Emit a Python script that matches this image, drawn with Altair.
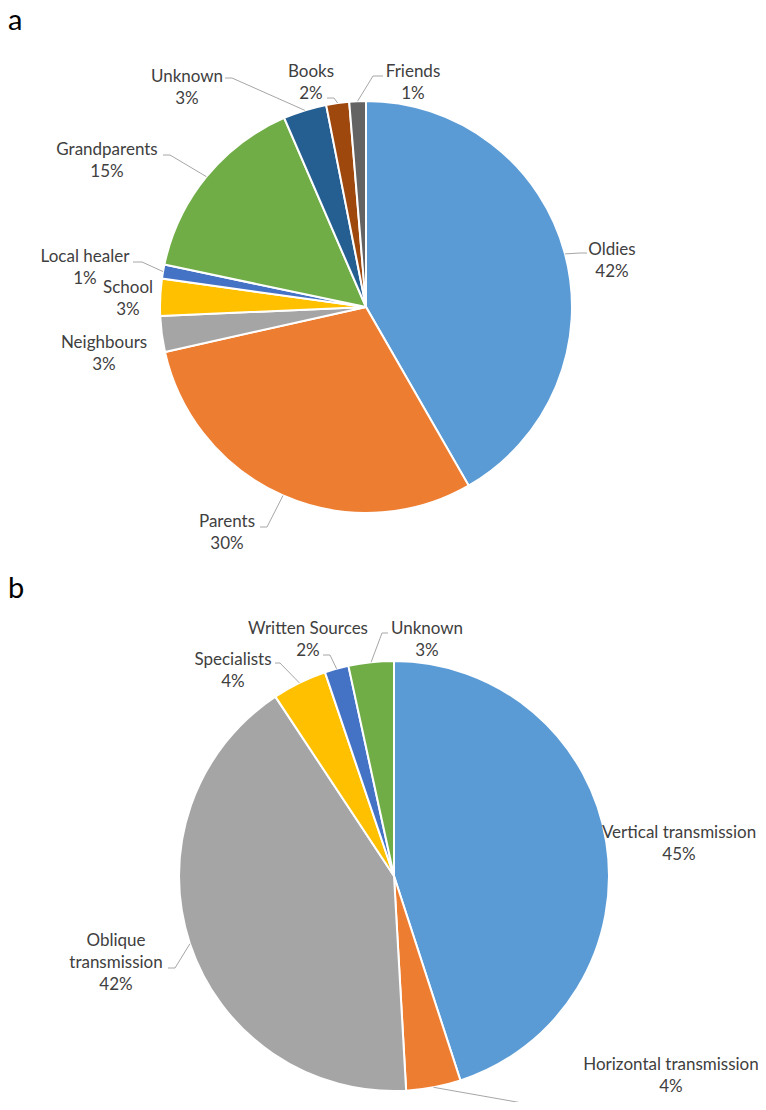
import altair as alt
import numpy as np
import pandas as pd

# ---------------- data ----------------
a_categories = ["Oldies", "Parents", "Neighbours", "School", "Local healer",
                "Grandparents", "Unknown", "Books", "Friends"]
a_values = [41.7, 29.8, 2.8, 2.9, 1.1, 15.2, 3.4, 1.8, 1.3]

b_categories = ["Vertical transmission", "Horizontal transmission",
                "Oblique transmission", "Specialists", "Written Sources", "Unknown"]
b_values = [45.0, 4.1, 41.6, 4.1, 1.8, 3.4]

# ---------------- styles / layout ----------------
a_palette = ["#5B9BD5", "#ED7D31", "#A5A5A5", "#FFC000", "#4472C4",
             "#70AD47", "#255E91", "#9E480E", "#636363"]
b_palette = ["#5B9BD5", "#ED7D31", "#A5A5A5", "#FFC000", "#4472C4", "#70AD47"]

A_CX, A_CY, A_R = 366, 307, 206
B_CX, B_CY, B_R = 394, 876, 215

# label anchor (centre x, first baseline) and leader elbow/end, page pixels
a_layout = {
    "Oldies":       ((612, 255), [(580, 253), (587, 253)]),
    "Parents":      ((227, 527), [(267, 527), (260, 527)]),
    "Neighbours":   ((104, 348), None),
    "School":       ((128, 293), None),
    "Local healer": ((85, 262),  [(142, 262), (133, 262)]),
    "Grandparents": ((107, 155), [(170, 155), (163, 155)]),
    "Unknown":      ((187, 82),  [(232, 78), (225, 78)]),
    "Books":        ((311, 77),  [(334, 98), (327, 98)]),
    "Friends":      ((413, 77),  [(373, 76), (383, 76)]),
}
b_layout = {
    "Vertical transmission":   ((679, 838), None),
    "Horizontal transmission": ((671, 1070), [(562, 1110), (562, 1110)]),
    "Oblique transmission":    ((116, 946), [(175, 968), (168, 968)]),
    "Specialists":             ((233, 665), [(280, 663), (275, 663)]),
    "Written Sources":         ((308, 634), [(330, 655), (323, 655)]),
    "Unknown":                 ((427, 634), [(382, 633), (388, 633)]),
}
wrap = {"Oblique transmission": "Oblique\ntransmission"}


def build(cats, vals, palette, layout, cx, cy, R, tag):
    slices = pd.DataFrame({"cat": cats, "value": vals, "idx": range(len(cats)),
                           "color": palette})
    total = float(sum(vals))
    cum = 0.0
    labels, lines = [], []
    for i, (c, v) in enumerate(zip(cats, vals)):
        mid = (cum + v / 2.0) / total * 2 * np.pi
        cum += v
        (lx, ly), lead = layout[c]
        text = f"{wrap.get(c, c)}\n{round(v)}%"
        labels.append({"x": lx, "y": ly, "text": text})
        if lead:
            sx = cx + R * np.sin(mid)
            sy = cy - R * np.cos(mid)
            pts = [(sx, sy)] + lead
            for k, (px, py) in enumerate(pts):
                lines.append({"id": f"{tag}{i}", "k": k, "x": px, "y": py})
    return slices, pd.DataFrame(labels), pd.DataFrame(lines)


a_sl, a_lab, a_lin = build(a_categories, a_values, a_palette, a_layout, A_CX, A_CY, A_R, "a")
b_sl, b_lab, b_lin = build(b_categories, b_values, b_palette, b_layout, B_CX, B_CY, B_R, "b")
lab_df = pd.concat([a_lab, b_lab], ignore_index=True)
lin_df = pd.concat([a_lin, b_lin], ignore_index=True)
panel_df = pd.DataFrame({"x": [8, 8], "y": [30, 598], "text": ["a", "b"]})

W, H = 750, 1094
X = alt.X("x:Q", scale=alt.Scale(domain=[8, 8 + W], range=[0, W]), axis=None)
Y = alt.Y("y:Q", scale=alt.Scale(domain=[8, 8 + H], range=[0, H]), axis=None)


def pie(df, cx, cy, R):
    return alt.Chart(df).mark_arc(outerRadius=R, stroke="white", strokeWidth=2).encode(
        theta=alt.Theta("value:Q", stack=True),
        order=alt.Order("idx:Q", sort="ascending"),
        color=alt.Color("color:N", scale=None),
        x=alt.value(cx - 8),
        y=alt.value(cy - 8),
    )


leaders = alt.Chart(lin_df).mark_line(color="#A6A6A6", strokeWidth=1).encode(
    x=X, y=Y, detail="id:N", order="k:Q"
)
labels = alt.Chart(lab_df).mark_text(
    font="Lato", fontSize=17, color="#404040", align="center",
    baseline="alphabetic", lineBreak="\n", lineHeight=22
).encode(x=X, y=Y, text="text:N")
panels = alt.Chart(panel_df).mark_text(
    font="Lato", fontSize=29, color="#000000", align="left", baseline="alphabetic"
).encode(x=X, y=Y, text="text:N")

chart = alt.layer(
    pie(a_sl, A_CX, A_CY, A_R), pie(b_sl, B_CX, B_CY, B_R), leaders, labels, panels
).resolve_scale(theta="independent").properties(
    width=W, height=H, padding=0, autosize="none"
).configure_view(stroke=None)

chart.save("out.html", embed_options={"renderer": "svg", "actions": False})
